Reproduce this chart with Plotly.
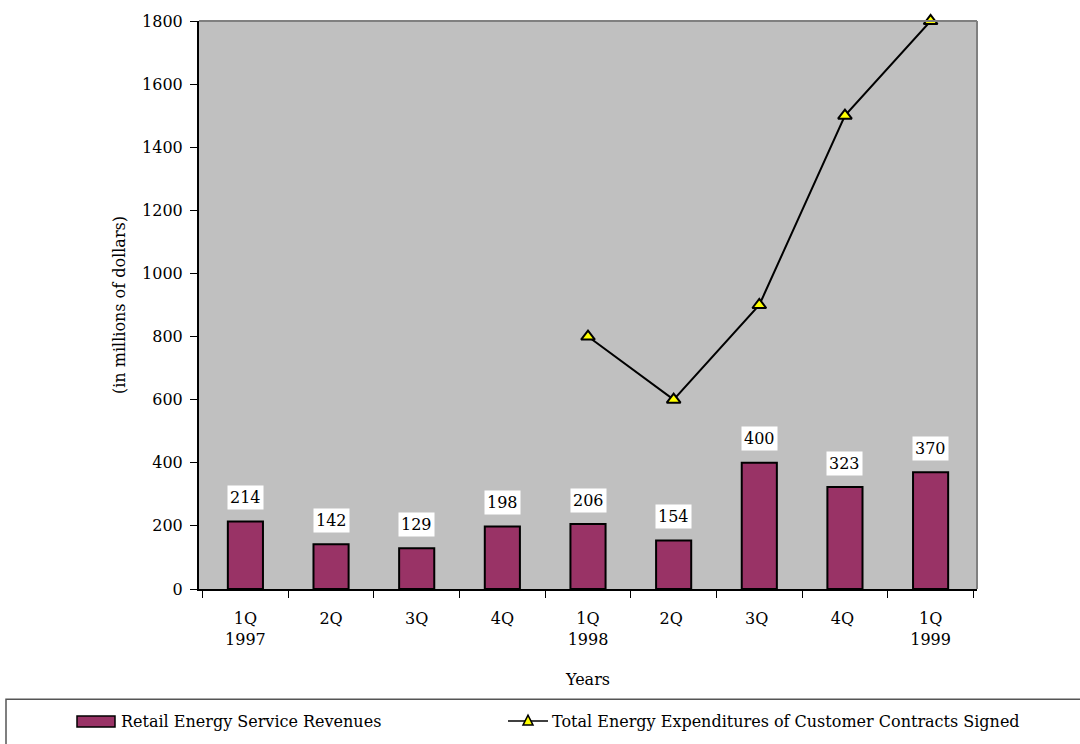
import plotly.graph_objects as go

categories = ["1Q<br>1997", "2Q", "3Q", "4Q", "1Q<br>1998", "2Q ", "3Q ", "4Q ", "1Q<br>1999"]
revenues = [214, 142, 129, 198, 206, 154, 400, 323, 370]
expenditures = [None, None, None, None, 800, 600, 900, 1500, 1800]
yticks = [0, 200, 400, 600, 800, 1000, 1200, 1400, 1600, 1800]

FONT = "DejaVu Serif"
FS = 16
BAR_COLOR = "#993366"

fig = go.Figure()
fig.add_trace(go.Bar(
    x=categories, y=revenues, name="Retail Energy Service Revenues",
    marker=dict(color=BAR_COLOR, line=dict(color="black", width=2)),
    width=0.41, showlegend=False,
))
fig.add_trace(go.Scatter(
    x=categories, y=expenditures, mode="lines+markers",
    name="Total Energy Expenditures of Customer Contracts Signed",
    line=dict(color="black", width=2),
    marker=dict(symbol="triangle-up", size=12, color="#FFFF00", line=dict(color="black", width=2)),
    showlegend=False, cliponaxis=False,
))

for c, v in zip(categories, revenues):
    fig.add_annotation(x=c, y=v, text=str(v), showarrow=False, yshift=24,
                       bgcolor="white", font=dict(family=FONT, size=FS, color="black"),
                       borderpad=2)

fig.update_layout(
    width=1080, height=744,
    margin=dict(l=199, r=103, t=17, b=155),
    paper_bgcolor="white", plot_bgcolor="#C0C0C0",
    font=dict(family=FONT, size=FS, color="black"),
    bargap=0.59,
    xaxis=dict(
        type="category", showline=True, linecolor="black", linewidth=2,
        ticks="outside", ticklen=7, tickcolor="black", tickson="boundaries",
        mirror=False, showgrid=False, ticklabelstandoff=14,
        title=dict(text="Years", font=dict(family=FONT, size=FS), standoff=26),
    ),
    yaxis=dict(
        range=[0, 1800], tickvals=yticks, showline=True, linecolor="black", linewidth=2,
        ticks="outside", ticklen=7, tickcolor="black", showgrid=False, zeroline=False,
        ticklabelstandoff=4,
        title=dict(text="(in millions of dollars)", font=dict(family=FONT, size=FS), standoff=12),
    ),
)

# Plot border (grey top/right)
fig.add_shape(type="line", xref="paper", yref="paper", x0=0, x1=1, y0=1, y1=1,
              line=dict(color="#808080", width=2))
fig.add_shape(type="line", xref="paper", yref="paper", x0=1, x1=1, y0=0, y1=1,
              line=dict(color="#808080", width=2))

# Custom legend box (pixel -> paper conversions)
W, H = 1080, 744
pw, ph = W - 199 - 103, H - 17 - 155
def px(x):
    return (x - 199) / pw
def py(y):
    return (H - 155 - y) / ph

fig.add_shape(type="rect", xref="paper", yref="paper", x0=px(6), x1=px(1090), y0=py(750), y1=py(700),
              line=dict(color="#555555", width=1.5), fillcolor="rgba(0,0,0,0)")
fig.add_shape(type="rect", xref="paper", yref="paper", x0=px(77), x1=px(115), y0=py(728), y1=py(717),
              line=dict(color="black", width=1.5), fillcolor=BAR_COLOR)
fig.add_shape(type="line", xref="paper", yref="paper", x0=px(508), x1=px(548), y0=py(722), y1=py(722),
              line=dict(color="black", width=1.5))
tri = f"M {px(523)} {py(726)} L {px(533)} {py(726)} L {px(528)} {py(716)} Z"
fig.add_shape(type="path", xref="paper", yref="paper", path=tri,
              line=dict(color="black", width=1.5), fillcolor="#FFFF00")

fig.add_annotation(xref="paper", yref="paper", x=px(119), y=py(722), text="Retail Energy Service Revenues",
                   showarrow=False, xanchor="left", yanchor="middle", font=dict(family=FONT, size=FS))
fig.add_annotation(xref="paper", yref="paper", x=px(550), y=py(722),
                   text="Total Energy Expenditures of Customer Contracts Signed",
                   showarrow=False, xanchor="left", yanchor="middle", font=dict(family=FONT, size=FS))

fig.write_html("out.html")
